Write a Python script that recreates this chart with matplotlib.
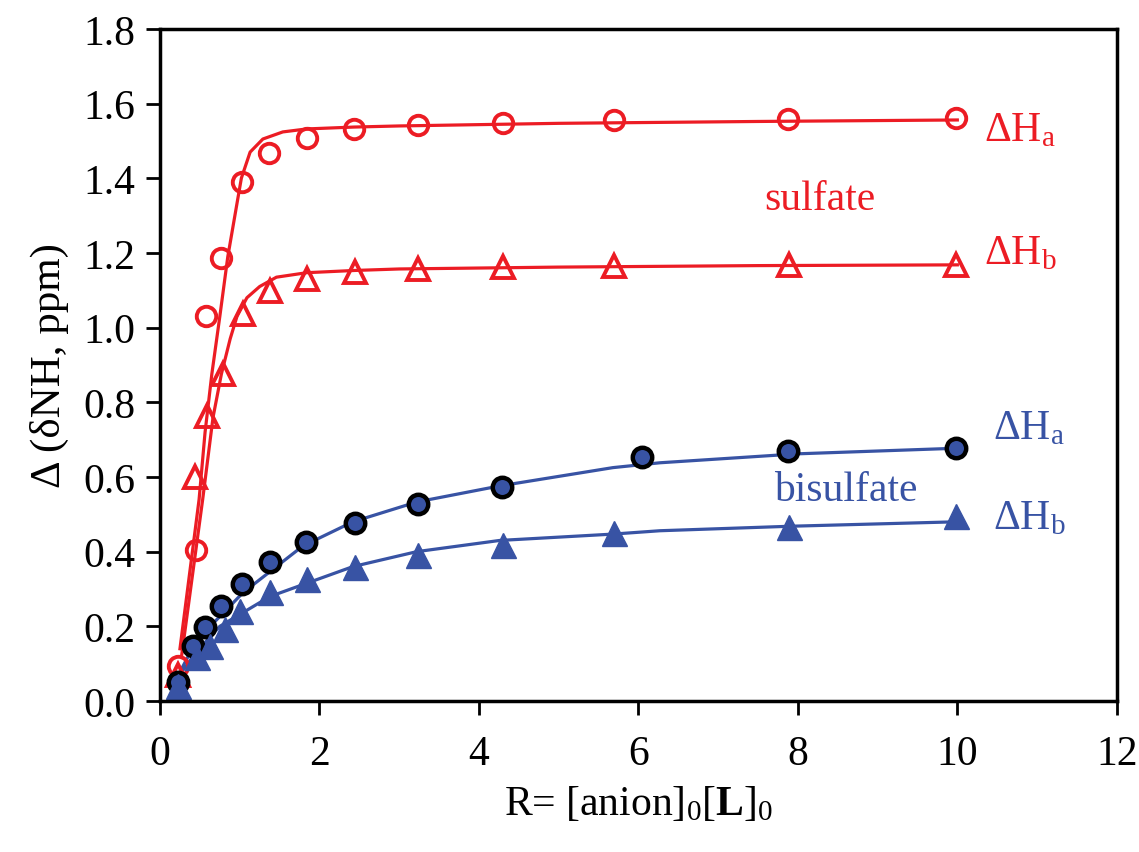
import matplotlib.pyplot as plt
import numpy as np

plt.rcParams['font.family'] = ['Liberation Serif', 'DejaVu Serif']
plt.rcParams['mathtext.fontset'] = 'custom'
plt.rcParams['mathtext.rm'] = 'Liberation Serif'
plt.rcParams['mathtext.it'] = 'Liberation Serif:italic'
plt.rcParams['mathtext.bf'] = 'Liberation Serif:bold'

RED = '#ec1c24'
BLUE = '#3853a4'

# sulfate, Ha (open circles)
sa_x = [0.23, 0.45, 0.58, 0.77, 1.03, 1.37, 1.84, 2.43, 3.24, 4.30, 5.70, 7.88, 9.98]
sa_y = [0.095, 0.405, 1.03, 1.187, 1.39, 1.468, 1.508, 1.532, 1.542, 1.548, 1.555, 1.558, 1.562]
# sulfate, Hb (open triangles)
sb_x = [0.23, 0.44, 0.59, 0.79, 1.04, 1.38, 1.84, 2.44, 3.24, 4.30, 5.70, 7.89, 9.98]
sb_y = [0.07, 0.60, 0.763, 0.876, 1.037, 1.098, 1.13, 1.149, 1.157, 1.163, 1.166, 1.168, 1.168]
# bisulfate, Ha (filled circles)
ba_x = [0.23, 0.41, 0.57, 0.76, 1.03, 1.38, 1.83, 2.44, 3.24, 4.29, 6.04, 7.87, 9.98]
ba_y = [0.05, 0.147, 0.197, 0.254, 0.313, 0.373, 0.425, 0.477, 0.528, 0.573, 0.654, 0.67, 0.678]
# bisulfate, Hb (filled triangles)
bb_x = [0.23, 0.46, 0.63, 0.82, 1.00, 1.38, 1.84, 2.45, 3.24, 4.30, 5.70, 7.89, 9.98]
bb_y = [0.04, 0.118, 0.147, 0.193, 0.241, 0.292, 0.327, 0.359, 0.391, 0.418, 0.45, 0.466, 0.496]

# fitted curves
fit_sa_x = [0.25, 0.49, 0.565, 0.65, 0.75, 0.85, 0.96, 1.02, 1.13, 1.29, 1.54, 1.84, 2.43, 3.0, 5.0, 7.5, 10.0]
fit_sa_y = [0.14, 0.54, 0.72, 0.876, 1.03, 1.19, 1.326, 1.40, 1.47, 1.505, 1.524, 1.532, 1.537, 1.54, 1.547, 1.552, 1.556]
fit_sb_x = [0.27, 0.535, 0.665, 0.77, 0.88, 0.965, 1.09, 1.25, 1.46, 1.84, 2.44, 3.0, 5.0, 7.5, 10.0]
fit_sb_y = [0.12, 0.54, 0.76, 0.876, 0.97, 1.03, 1.08, 1.11, 1.135, 1.147, 1.153, 1.157, 1.162, 1.166, 1.168]
fit_ba_x = [0.28, 0.42, 0.63, 1.04, 1.79, 2.42, 3.22, 4.26, 5.68, 6.27, 8.0, 10.0]
fit_ba_y = [0.09, 0.147, 0.20, 0.29, 0.415, 0.48, 0.533, 0.576, 0.625, 0.638, 0.662, 0.677]
fit_bb_x = [0.28, 0.45, 0.75, 1.38, 2.42, 3.22, 4.26, 5.68, 6.27, 7.9, 10.0]
fit_bb_y = [0.08, 0.13, 0.20, 0.28, 0.36, 0.40, 0.43, 0.447, 0.456, 0.468, 0.48]

fig = plt.figure(figsize=(11.39, 8.53), dpi=100)
ax = fig.add_axes([0.1405, 0.177, 0.84, 0.788])

ax.plot(fit_sa_x, fit_sa_y, color=RED, lw=2.3)
ax.plot(fit_sb_x, fit_sb_y, color=RED, lw=2.3)
ax.plot(fit_ba_x, fit_ba_y, color=BLUE, lw=2.3)
ax.plot(fit_bb_x, fit_bb_y, color=BLUE, lw=2.3)

ax.plot(sa_x, sa_y, 'o', ms=14, mfc='none', mec=RED, mew=2.8)
ax.plot(sb_x, sb_y, '^', ms=16, mfc='none', mec=RED, mew=2.8)
ax.plot(ba_x, ba_y, 'o', ms=14, mfc=BLUE, mec='black', mew=3.2)
ax.plot(bb_x, bb_y, '^', ms=18, mfc=BLUE, mec=BLUE, mew=1)

ax.set_xlim(0, 12)
ax.set_ylim(0, 1.8)
ax.set_xticks(np.arange(0, 13, 2))
ax.set_yticks(np.arange(0, 1.81, 0.2))
ax.set_yticklabels(['%.1f' % v for v in np.arange(0, 1.81, 0.2)])
ax.tick_params(direction='out', length=10, width=2, labelsize=30, pad=8)
ax.tick_params(axis='x', pad=14)
for s in ax.spines.values():
    s.set_linewidth(2.5)

ax.set_xlabel(r'R= [anion]$_0$[$\mathbf{L}$]$_0$', fontsize=30, labelpad=8)
ax.set_ylabel('Δ (δNH, ppm)', fontsize=31, labelpad=10)

ax.text(10.33, 1.53, r'ΔH$_\mathrm{a}$', color=RED, fontsize=30, va='center')
ax.text(10.33, 1.20, r'ΔH$_\mathrm{b}$', color=RED, fontsize=30, va='center')
ax.text(8.27, 1.345, 'sulfate', color=RED, fontsize=30, ha='center', va='center')
ax.text(10.45, 0.73, r'ΔH$_\mathrm{a}$', color=BLUE, fontsize=30, va='center')
ax.text(10.45, 0.49, r'ΔH$_\mathrm{b}$', color=BLUE, fontsize=30, va='center')
ax.text(8.6, 0.565, 'bisulfate', color=BLUE, fontsize=30, ha='center', va='center')

fig.savefig('out.png', dpi=100)
